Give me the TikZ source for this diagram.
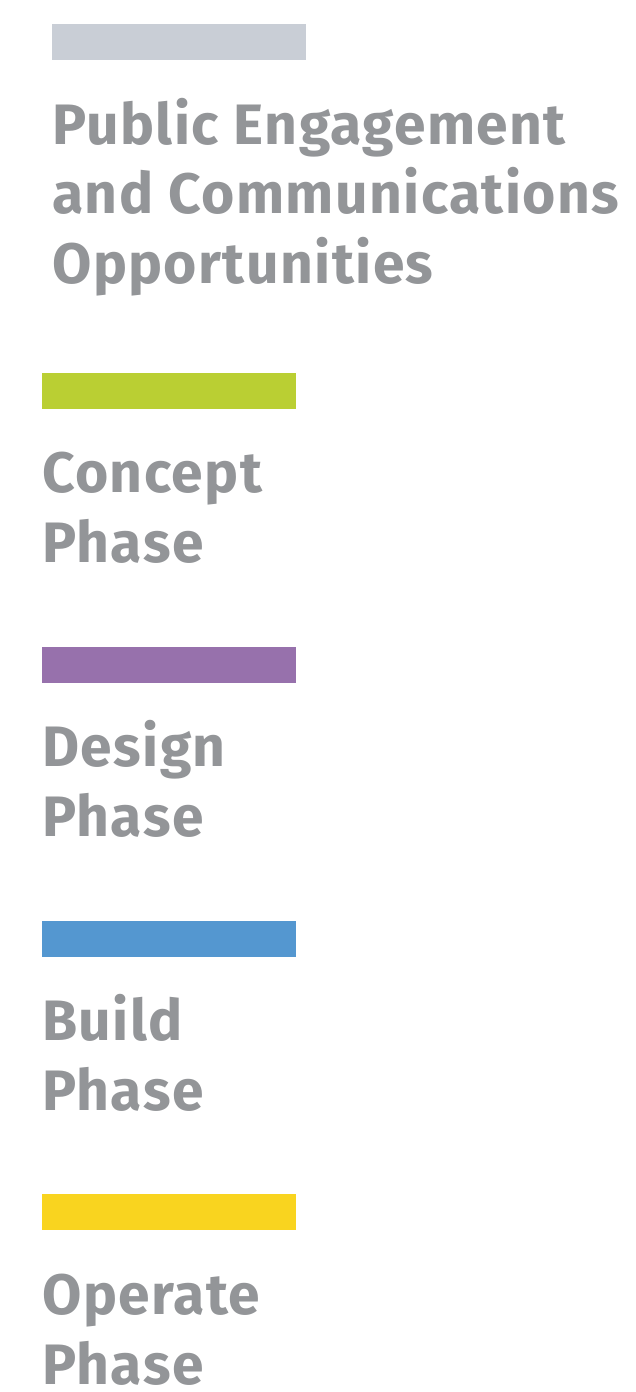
\documentclass[tikz,border=0pt]{standalone}
\usepackage{fontspec}
\setmainfont{Fira Sans}[LetterSpace=2.5]
\definecolor{txtgray}{HTML}{939598}
\definecolor{bargray}{HTML}{C9CED6}
\definecolor{bargreen}{HTML}{BACF33}
\definecolor{barpurple}{HTML}{9771AC}
\definecolor{barblue}{HTML}{5497D0}
\definecolor{baryellow}{HTML}{F9D41F}
\begin{document}
\begin{tikzpicture}[x=1pt,y=-1pt,
  bar/.style={draw=none,inner sep=0pt,minimum width=254pt,minimum height=36pt,anchor=north west},
  label/.style={inner sep=0pt,anchor=base west,align=left,text=txtgray,
    font=\fontsize{57}{69.5}\selectfont\bfseries}]
\useasboundingbox (0,0) rectangle (636,1392);
\node[bar,fill=bargray] (b0) at (52,24) {};
\node[label] (t0) at (52,283) {Public Engagement\\and Communications\\Opportunities};
\node[bar,fill=bargreen] (b1) at (42,373) {};
\node[label] (t1) at (42,562) {Concept\\Phase};
\node[bar,fill=barpurple] (b2) at (42,647) {};
\node[label] (t2) at (42,836) {Design\\Phase};
\node[bar,fill=barblue] (b3) at (42,921) {};
\node[label] (t3) at (42,1110) {Build\\Phase};
\node[bar,fill=baryellow] (b4) at (42,1194) {};
\node[label] (t4) at (42,1384) {Operate\\Phase};
\end{tikzpicture}
\end{document}
